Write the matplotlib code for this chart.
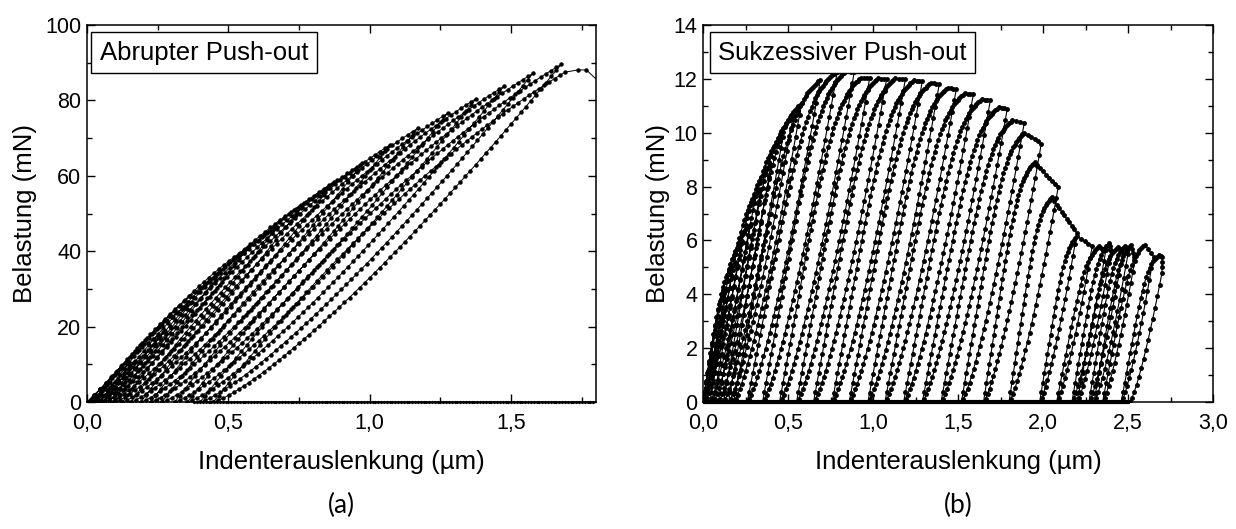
import numpy as np
import matplotlib
matplotlib.use("Agg")
import matplotlib.pyplot as plt
from matplotlib.ticker import MultipleLocator, FuncFormatter

plt.rcParams['font.family'] = ['Liberation Sans', 'DejaVu Sans']

# (a) abrupt push-out: peak of every load cycle and where each cycle starts at zero load
a_peak_x = [0.07, 0.17, 0.27, 0.37, 0.472, 0.571, 0.673, 0.773, 0.873, 0.974,
            1.071, 1.169, 1.275, 1.376, 1.475, 1.577, 1.677]
a_peak_y = [4.5, 11.0, 18.5, 26.5, 34.2, 41.2, 46.5, 53.1, 58.4, 63.3,
            68.2, 72.6, 76.6, 80.5, 83.8, 87.2, 89.6]
a_start_x = [0.0, 0.005, 0.01, 0.02, 0.03, 0.045, 0.06, 0.08, 0.10, 0.125,
             0.155, 0.19, 0.225, 0.265, 0.31, 0.355, 0.40, 0.447]
a_last_x = [1.69, 1.736, 1.766, 1.81]
a_last_y = [87.5, 88.1, 88.1, 85.0]
a_zero_x = [0.38, 1.80]

# (b) successive push-out: start, peak and end of the load plateau for each cycle
b_start_x = [0.0, 0.0, 0.0, 0.0, 0.0, 0.01, 0.04, 0.06, 0.09, 0.12, 0.15, 0.18,
             0.26, 0.35, 0.45, 0.55, 0.65, 0.76, 0.86, 0.97, 1.07, 1.18, 1.29,
             1.40, 1.52, 1.65, 1.80, 1.98, 2.08, 2.17, 2.20, 2.27, 2.30, 2.35, 2.46]
b_peak_x = [0.06, 0.10, 0.14, 0.18, 0.23, 0.28, 0.34, 0.40, 0.47, 0.53, 0.58, 0.69,
            0.78, 0.84, 0.93, 1.03, 1.13, 1.24, 1.34, 1.44, 1.54, 1.64, 1.74,
            1.82, 1.89, 1.95, 2.05, 2.20, 2.33, 2.39, 2.44, 2.48, 2.52, 2.60, 2.68]
b_peak_y = [1.7, 3.0, 4.2, 5.1, 5.9, 6.6, 7.9, 8.8, 9.85, 10.6, 11.1, 11.96,
            12.25, 12.28, 12.05, 12.02, 12.02, 11.95, 11.85, 11.67, 11.47, 11.25, 10.95,
            10.47, 10.0, 8.9, 7.6, 6.15, 5.78, 5.9, 5.75, 5.78, 5.85, 5.85, 5.45]
b_end_x = [0.06, 0.10, 0.14, 0.18, 0.23, 0.28, 0.34, 0.40, 0.47, 0.53, 0.58, 0.69,
           0.79, 0.89, 0.98, 1.08, 1.19, 1.29, 1.39, 1.49, 1.59, 1.69, 1.79,
           1.89, 1.99, 2.09, 2.20, 2.29, 2.37, 2.40, 2.47, 2.50, 2.54, 2.65, 2.70]
b_end_y = [1.7, 3.0, 4.2, 5.1, 5.9, 6.6, 7.9, 8.8, 9.85, 10.6, 11.1, 11.96,
           12.27, 12.27, 12.02, 12.0, 11.98, 11.92, 11.82, 11.63, 11.43, 11.2, 10.9,
           10.38, 9.6, 8.0, 6.28, 5.8, 5.65, 5.6, 5.55, 5.5, 5.25, 5.4, 5.4]
b_drop_y = 4.8
b_final_x = 2.51
b_zero_x = [0.0, 2.51]


def npts(dx, dy, scale, step):
    length = np.hypot(dx * scale[0], dy * scale[1])
    return max(4, int(length / step) + 1)


def load_a(r, xp, yp, scale):
    t = np.linspace(0, 1, npts(xp - r, yp, scale, 7))
    return r + t * (xp - r), yp * (1.35 * t - 0.35 * t ** 2)


def load_b(r, xp, yp, scale):
    t = np.linspace(0, 1, npts(xp - r, yp, scale, 7))
    g = lambda u: ((np.maximum(u, 1e-9) / 0.75) ** -5 + 1) ** -0.2
    return r + t * (xp - r), yp * g(t) / g(1.0)


def unload(x0, y0, r, m, scale, step):
    s = np.linspace(1, 0, npts(x0 - r, y0, scale, step))
    return r + s * (x0 - r), y0 * s ** m


def line(x0, y0, x1, y1, scale, step):
    t = np.linspace(0, 1, npts(x1 - x0, y1 - y0, scale, step))
    return x0 + t * (x1 - x0), y0 + t * (y1 - y0)


fmt = FuncFormatter(lambda v, p: f"{v:.1f}".replace(".", ","))

fig = plt.figure(figsize=(12.36, 5.29), dpi=100)
ax1 = fig.add_axes([0.0704, 0.240, 0.4118, 0.7126])
ax2 = fig.add_axes([0.5688, 0.240, 0.4126, 0.7126])

# ---- panel (a)
sa = (282, 3.77)
xs, ys = [], []
for i in range(len(a_peak_x)):
    x, y = load_a(a_start_x[i], a_peak_x[i], a_peak_y[i], sa)
    xs.append(x); ys.append(y)
    x, y = unload(a_peak_x[i], a_peak_y[i], a_start_x[i + 1], 1.25, sa, 7)
    xs.append(x[1:]); ys.append(y[1:])
x, y = load_a(a_start_x[-1], a_last_x[0], a_last_y[0], sa)
xs.append(x); ys.append(y)
xs.append(np.array(a_last_x[1:])); ys.append(np.array(a_last_y[1:]))
ax1.plot(np.concatenate(xs), np.concatenate(ys), color='black', lw=0.7,
         marker='o', ms=2.2)
zx = np.arange(a_zero_x[0], a_zero_x[1], 0.01)
ax1.plot(zx, np.zeros_like(zx), ls='none', marker='o', ms=1.3, color='black',
         clip_on=False)

# ---- panel (b)
sb = (170, 26.93)
xs, ys = [], []
n = len(b_peak_x)
for i in range(n):
    x, y = load_b(b_start_x[i], b_peak_x[i], b_peak_y[i], sb)
    xs.append(x); ys.append(y)
    if b_end_x[i] > b_peak_x[i]:
        x, y = line(b_peak_x[i], b_peak_y[i], b_end_x[i], b_end_y[i], sb, 4)
        xs.append(x[1:]); ys.append(y[1:])
    if i < n - 1:
        x, y = unload(b_end_x[i], b_end_y[i], b_start_x[i + 1], 1.3, sb, 9)
        xs.append(x[1:]); ys.append(y[1:])
x, y = line(b_end_x[-1], b_end_y[-1], b_end_x[-1], b_drop_y, sb, 9)
xs.append(x[1:]); ys.append(y[1:])
x, y = unload(b_end_x[-1], b_drop_y, b_final_x, 1.3, sb, 9)
xs.append(x[1:]); ys.append(y[1:])
ax2.plot(np.concatenate(xs), np.concatenate(ys), color='black', lw=0.8,
         marker='o', ms=2.5)
ax2.plot(b_zero_x, [0, 0], color='black', lw=3.0, solid_capstyle='butt',
         clip_on=False)

# ---- axes styling
for ax, ylim, ymaj, ymin, xlim, title, tx, ylx in [
        (ax1, 100, 20, 10, 1.8, "Abrupter Push-out", 0.0246, -0.098),
        (ax2, 14, 2, 1, 3.0, "Sukzessiver Push-out", 0.030, -0.065)]:
    ax.set_xlim(0, xlim)
    ax.set_ylim(0, ylim)
    ax.xaxis.set_major_locator(MultipleLocator(0.5))
    ax.xaxis.set_minor_locator(MultipleLocator(0.25))
    ax.yaxis.set_major_locator(MultipleLocator(ymaj))
    ax.yaxis.set_minor_locator(MultipleLocator(ymin))
    ax.xaxis.set_major_formatter(fmt)
    ax.tick_params(which='both', direction='in', top=True, right=True,
                   labelsize=15.5, width=1.0)
    ax.tick_params(which='major', length=6, pad=4)
    ax.tick_params(axis='x', which='major', pad=8)
    ax.tick_params(which='minor', length=3.5)
    for sp in ax.spines.values():
        sp.set_linewidth(1.1)
    ax.set_xlabel("Indenterauslenkung (µm)", fontsize=18.5)
    ax.set_ylabel("Belastung (mN)", fontsize=18.5)
    ax.xaxis.set_label_coords(0.5, -0.128)
    ax.yaxis.set_label_coords(ylx, 0.5)
    ax.text(tx, 0.959, title, transform=ax.transAxes, fontsize=18.5,
            ha='left', va='top', zorder=5,
            bbox=dict(boxstyle='square,pad=0.33', fc='white', ec='black', lw=1.0))

fig.text(0.2766, 0.045, "(a)", ha='center', va='center', fontsize=19, family='Lato')
fig.text(0.7751, 0.045, "(b)", ha='center', va='center', fontsize=19, family='Lato')

fig.savefig("out.png", dpi=100)
